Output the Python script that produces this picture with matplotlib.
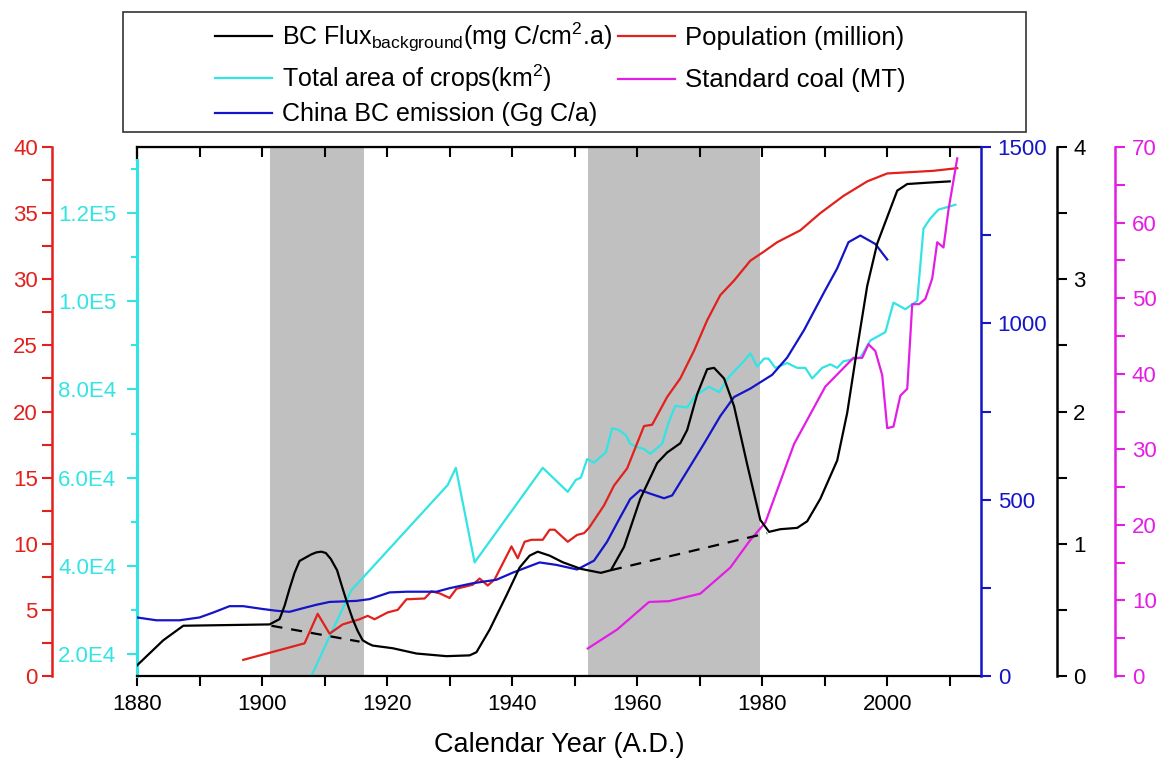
import matplotlib
matplotlib.use('Agg')
import matplotlib.pyplot as plt
from matplotlib.ticker import MultipleLocator, FuncFormatter
from matplotlib.patches import Rectangle

plt.rcParams['font.family'] = ['Liberation Sans', 'DejaVu Sans']
plt.rcParams['mathtext.fontset'] = 'custom'
plt.rcParams['mathtext.rm'] = 'Liberation Sans'
plt.rcParams['mathtext.it'] = 'Liberation Sans:italic'

# BC flux background (mg C/cm2.a), right black axis 0-4
flux_years = [1880, 1884.2, 1887.4, 1901.2, 1902.8, 1903.6, 1904.4, 1905.2, 1906, 1907.9,
              1908.7, 1909.5, 1910.2, 1911, 1912, 1912.9, 1913.7, 1914.5, 1915.3, 1916.1,
              1917, 1917.7, 1920.9, 1924.7, 1929.5, 1933.2, 1934.3, 1936.4, 1939.1, 1941.2,
              1942.8, 1944.1, 1946, 1948.1, 1951, 1954.2, 1955.8, 1957.9, 1960.5, 1963.2,
              1964.8, 1966.9, 1968, 1969.6, 1971.2, 1972.3, 1973.9, 1975.5, 1977.6, 1979.7,
              1981.1, 1982.9, 1985.6, 1987.2, 1989.3, 1992, 1993.6, 1995.2, 1996.8, 1998.4,
              2000, 2001.6, 2003.2, 2006.4, 2010]
flux_vals = [0.08, 0.27, 0.38, 0.39, 0.43, 0.53, 0.66, 0.78, 0.87, 0.92,
             0.935, 0.94, 0.93, 0.885, 0.80, 0.66, 0.54, 0.43, 0.34, 0.27,
             0.245, 0.23, 0.21, 0.17, 0.15, 0.156, 0.18, 0.35, 0.61, 0.82,
             0.91, 0.94, 0.91, 0.86, 0.81, 0.78, 0.80, 0.976, 1.34, 1.61,
             1.69, 1.76, 1.86, 2.13, 2.32, 2.33, 2.25, 2.04, 1.6, 1.18,
             1.09, 1.11, 1.12, 1.17, 1.34, 1.63, 1.99, 2.48, 2.95, 3.27,
             3.47, 3.67, 3.72, 3.73, 3.74]

# dashed background baselines
base1_years = [1901.5, 1915.6]
base1_vals = [0.38, 0.26]
base2_years = [1955.8, 1980.8]
base2_vals = [0.80, 1.08]

# population (million), left red axis 0-40
pop_years = [1897, 1906.8, 1908.9, 1910.8, 1912.9, 1915.6, 1916.9, 1918, 1920.1, 1921.7,
             1923.1, 1926, 1927.1, 1928.4, 1930, 1931.1, 1933.7, 1934.8, 1936.1, 1937.2,
             1939.9, 1940.9, 1942, 1943.1, 1944.9, 1946, 1946.8, 1948.9, 1950.4, 1951.5,
             1952.3, 1954.7, 1956.3, 1958.4, 1960, 1961.1, 1962.4, 1964.8, 1966.9, 1969.1,
             1971.2, 1973.3, 1975.5, 1978.1, 1980.3, 1982.4, 1986.1, 1989.3, 1993, 1996.8,
             2000, 2003.7, 2007.4, 2011.2]
pop_vals = [1.22, 2.47, 4.7, 3.2, 3.9, 4.29, 4.55, 4.29, 4.81, 5.0,
            5.8, 5.86, 6.4, 6.25, 5.9, 6.6, 6.9, 7.37, 6.84, 7.3,
            9.8, 8.9, 10.15, 10.3, 10.3, 11.06, 11.06, 10.15, 10.67, 10.8,
            11.2, 12.9, 14.4, 15.7, 17.6, 18.9, 19.0, 21.1, 22.5, 24.6,
            26.9, 28.8, 29.9, 31.4, 32.1, 32.8, 33.7, 35.0, 36.3, 37.4,
            38.0, 38.1, 38.2, 38.4]

# total area of crops (km2), left cyan axis
crop_years = [1907.9, 1910.8, 1914.3, 1916.1, 1929.7, 1931, 1934, 1944.9, 1948.9, 1950.2,
              1951, 1952, 1953.1, 1955, 1956, 1957.1, 1958.2, 1958.9, 1960, 1961.1,
              1962.1, 1964, 1965, 1966.1, 1968, 1969.3, 1971.5, 1973.1, 1974.7, 1976.8,
              1978.1, 1979.2, 1980.3, 1981, 1982.1, 1984, 1985.6, 1986.9, 1988, 1989.6,
              1990.9, 1992, 1993, 1995.7, 1997.3, 1999.7, 2001, 2002.9, 2004.8, 2005.8,
              2006.9, 2008.2, 2010.9]
crop_vals = [15000, 23980, 34520, 37250, 58330, 62230, 40770, 62230, 56770, 59500,
             60000, 64200, 63400, 65750, 71200, 70800, 69600, 67700, 66900, 66500,
             65400, 67700, 72400, 76300, 75900, 78600, 80600, 79400, 82900, 86000,
             88200, 85200, 87000, 87000, 84900, 86000, 84900, 84900, 82500, 84900,
             85700, 84900, 86400, 87200, 91100, 93000, 99700, 98200, 100100, 116500,
             118800, 120800, 121900]

# China BC emission (Gg C/a), right blue axis 0-1500
emis_years = [1880, 1883.1, 1886.8, 1890, 1892.2, 1894.8, 1897, 1900.1, 1902.3, 1904.4,
              1906.5, 1908.7, 1910.8, 1915.1, 1917.2, 1920.4, 1923.1, 1927.9, 1930, 1933.7,
              1937.5, 1940.1, 1944.4, 1947.1, 1950.4, 1953.1, 1955.2, 1957.1, 1958.9, 1960.5,
              1962.1, 1964.3, 1965.6, 1968, 1970.7, 1973.3, 1975.5, 1978.1, 1981.6, 1984,
              1986.7, 1989.9, 1992, 1993.8, 1995.7, 1998.1, 2000]
emis_vals = [166, 158, 158, 166, 180, 198, 198, 190, 185, 182,
             192, 202, 210, 213, 218, 237, 239, 239, 249, 263,
             273, 293, 322, 315, 302, 327, 381, 444, 502, 527,
             517, 504, 512, 581, 659, 737, 791, 815, 854, 903,
             981, 1088, 1156, 1230, 1249, 1225, 1181]

# standard coal (MT), right magenta axis 0-70
coal_years = [1952.1, 1956.8, 1961.9, 1965.1, 1970.1, 1974.9, 1978.1, 1980.5, 1985.1, 1990.1,
              1994.6, 1996, 1997, 1998.1, 1999.2, 2000, 2001, 2002.1, 2003.2, 2004,
              2005.1, 2006.1, 2007.2, 2008, 2009, 2009.8, 2011.2]
coal_vals = [3.64, 6.15, 9.8, 9.9, 10.9, 14.35, 18.0, 20.3, 30.7, 38.3,
             42.1, 42.1, 43.9, 43.0, 39.8, 32.8, 33.0, 37.1, 38.0, 49.2,
             49.2, 49.9, 52.6, 57.4, 56.7, 61.7, 68.5]

shade_periods = [(1901.3, 1916.3), (1952.2, 1979.6)]

RED = '#e2201c'
CYAN = '#33e4e4'
BLUE = '#1414c8'
MAGENTA = '#e41de4'
LW = 1.6
TICK_FS = 16

W, H = 1160, 759
fig = plt.figure(figsize=(W / 100, H / 100), dpi=100)
ax = fig.add_axes([137 / W, 83 / H, 844 / W, 529 / H])

for a, b in shade_periods:
    ax.axvspan(a, b, color='#c0c0c0', lw=0, zorder=0)

crop_line, = ax.plot(crop_years, crop_vals, color=CYAN, lw=LW)
ax.set_xlim(1880, 2015)
ax.set_ylim(15000, 135000)


def sci_fmt(v, pos):
    m, e = f'{v:.1E}'.split('E')
    return f'{m}E{int(e)}'


ax.yaxis.set_major_locator(MultipleLocator(20000))
ax.yaxis.set_minor_locator(MultipleLocator(10000))
ax.yaxis.set_major_formatter(FuncFormatter(sci_fmt))
ax.tick_params(axis='y', which='both', colors=CYAN, direction='out', width=1.5,
               labelsize=TICK_FS, pad=8)
ax.tick_params(axis='y', which='major', length=7)
ax.tick_params(axis='y', which='minor', length=4)
ax.spines['left'].set_color(CYAN)
ax.spines['left'].set_linewidth(2.2)
ax.spines['left'].set_bounds(15000, 132000)
ax.spines['right'].set_visible(False)
for s in ('top', 'bottom'):
    ax.spines[s].set_linewidth(1.6)
ax.plot([0, 0], [0.975, 1], color='black', lw=1.6, transform=ax.transAxes, clip_on=False)

ax.xaxis.set_major_locator(MultipleLocator(20))
ax.xaxis.set_minor_locator(MultipleLocator(10))
ax.tick_params(axis='x', which='both', direction='out', width=1.5, labelsize=TICK_FS, pad=6)
ax.tick_params(axis='x', which='major', length=7)
ax.tick_params(axis='x', which='minor', length=7)
top = ax.secondary_xaxis('top')
top.xaxis.set_major_locator(MultipleLocator(10))
top.tick_params(direction='in', length=7, width=1.5, labeltop=False)
ax.set_xlabel('Calendar Year (A.D.)', fontsize=19.5, labelpad=12)


def side_axis(side, pos, color, ylim, major, minor, pad=5):
    t = ax.twinx()
    for s in t.spines.values():
        s.set_visible(False)
    sp = t.spines[side]
    sp.set_visible(True)
    sp.set_position(('axes', pos))
    sp.set_color(color)
    sp.set_linewidth(1.8)
    t.yaxis.set_ticks_position(side)
    t.set_ylim(*ylim)
    t.yaxis.set_major_locator(MultipleLocator(major))
    t.yaxis.set_minor_locator(MultipleLocator(minor))
    t.tick_params(axis='y', which='both', colors=color, direction='out', width=1.5,
                  labelsize=TICK_FS, pad=pad)
    t.tick_params(axis='y', which='major', length=7)
    t.tick_params(axis='y', which='minor', length=7)
    return t


ax_pop = side_axis('left', -0.101, RED, (0, 40), 5, 2.5, pad=3)
pop_line, = ax_pop.plot(pop_years, pop_vals, color=RED, lw=LW)

ax_emis = side_axis('right', 1.0, BLUE, (0, 1500), 500, 250)
emis_line, = ax_emis.plot(emis_years, emis_vals, color=BLUE, lw=LW)

ax_coal = side_axis('right', 1.159, MAGENTA, (0, 70), 10, 5)
coal_line, = ax_coal.plot(coal_years, coal_vals, color=MAGENTA, lw=LW)

ax_flux = side_axis('right', 1.0897, 'black', (0, 4), 1, 0.5)
flux_line, = ax_flux.plot(flux_years, flux_vals, color='black', lw=LW)
ax_flux.plot(base1_years, base1_vals, color='black', lw=LW, ls=(0, (5, 4)))
ax_flux.plot(base2_years, base2_vals, color='black', lw=LW, ls=(0, (5, 4)))

legend_kw = dict(loc='upper left', frameon=False, handletextpad=0.4,
                 borderpad=0, borderaxespad=0)
fig.legend([flux_line, crop_line, emis_line],
           [r'BC Flux$_{\mathrm{background}}$(mg C/cm$^{2}$.a)',
            r'Total area of crops(km$^{2}$)',
            'China BC emission (Gg C/a)'],
           bbox_to_anchor=(215 / W, 1 - 21 / H), labelspacing=0.34, fontsize=18,
           handlelength=2.27, **legend_kw)
fig.legend([pop_line, coal_line],
           ['Population (million)', 'Standard coal (MT)'],
           bbox_to_anchor=(618 / W, 1 - 26 / H), labelspacing=0.72, fontsize=18.5,
           handlelength=2.2, **legend_kw)
fig.patches.append(Rectangle((122.7 / W, 1 - 131.7 / H), (1026 - 122.7) / W, 120 / H,
                             transform=fig.transFigure, fill=False, ec='#333333', lw=1.2))

fig.savefig('out.png', dpi=100)
